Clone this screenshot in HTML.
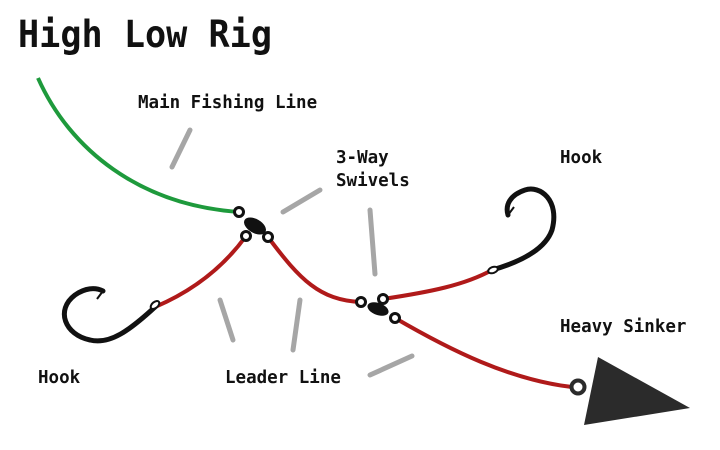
<!DOCTYPE html>
<html><head><style>
html,body{margin:0;padding:0;background:#fff;}
svg{display:block;}
text{font-family:"DejaVu Sans Mono","Liberation Mono",monospace;font-weight:bold;fill:#111;}
</style></head><body>
<svg width="720" height="450" viewBox="0 0 720 450" xmlns="http://www.w3.org/2000/svg">
<text x="18" y="47" font-size="37" textLength="254" lengthAdjust="spacingAndGlyphs">High Low Rig</text>
<g font-size="17.5">
<text x="138" y="108">Main Fishing Line</text>
<text x="336" y="163">3-Way</text>
<text x="336" y="186">Swivels</text>
<text x="560" y="163">Hook</text>
<text x="560" y="332">Heavy Sinker</text>
<text x="38" y="383">Hook</text>
<text x="225" y="383">Leader Line</text>
</g>
<g stroke="#a6a6a6" stroke-width="5" stroke-linecap="round">
<line x1="172" y1="167" x2="190" y2="130"/>
<line x1="283" y1="212" x2="320" y2="190"/>
<line x1="370" y1="210" x2="375" y2="274"/>
<line x1="220" y1="300" x2="233" y2="340"/>
<line x1="300" y1="300" x2="293" y2="350"/>
<line x1="370" y1="375" x2="412" y2="356"/>
</g>
<path d="M38 78 C70 150 140 205 239 212" fill="none" stroke="#1e9a3c" stroke-width="4"/>
<g fill="none" stroke="#b01a1a" stroke-width="4">
<path d="M246 236 C225 265 195 290 155 307"/>
<path d="M268 237 C300 280 320 300 360 302"/>
<path d="M383 299 C430 292 465 285 492 270"/>
<path d="M395 318 C450 350 510 380 572 387"/>
</g>
<g fill="none" stroke="#111" stroke-width="5" stroke-linecap="round">
<path d="M155 307 C130 330 110 345 90 340 C65 335 55 310 75 295 C85 288 95 287 103 291"/>
<path d="M492 270 C520 262 545 250 552 230 C560 200 540 185 525 190 C510 195 505 205 508 215"/>
</g>
<g stroke="#111" stroke-width="2" fill="none"><path d="M103 291 l-6 8"/><path d="M508 215 l6 -8"/></g>
<ellipse cx="155" cy="305" rx="5" ry="3" fill="#fff" stroke="#111" stroke-width="2" transform="rotate(-40 155 305)"/>
<ellipse cx="493" cy="270" rx="5" ry="3" fill="#fff" stroke="#111" stroke-width="2" transform="rotate(-20 493 270)"/>
<ellipse cx="255" cy="226" rx="12" ry="7" fill="#111" transform="rotate(30 255 226)"/>
<ellipse cx="378" cy="309" rx="11" ry="6" fill="#111" transform="rotate(20 378 309)"/>
<g fill="#fff" stroke="#111" stroke-width="3">
<circle cx="239" cy="212" r="4.5"/><circle cx="246" cy="236" r="4.5"/><circle cx="268" cy="237" r="4.5"/>
<circle cx="361" cy="302" r="4.5"/><circle cx="383" cy="299" r="4.5"/><circle cx="395" cy="318" r="4.5"/>
</g>
<polygon points="598,357 690,408 584,425" fill="#2b2b2b"/>
<circle cx="578" cy="387" r="6.5" fill="#fff" stroke="#2b2b2b" stroke-width="4"/>
</svg>
</body></html>
